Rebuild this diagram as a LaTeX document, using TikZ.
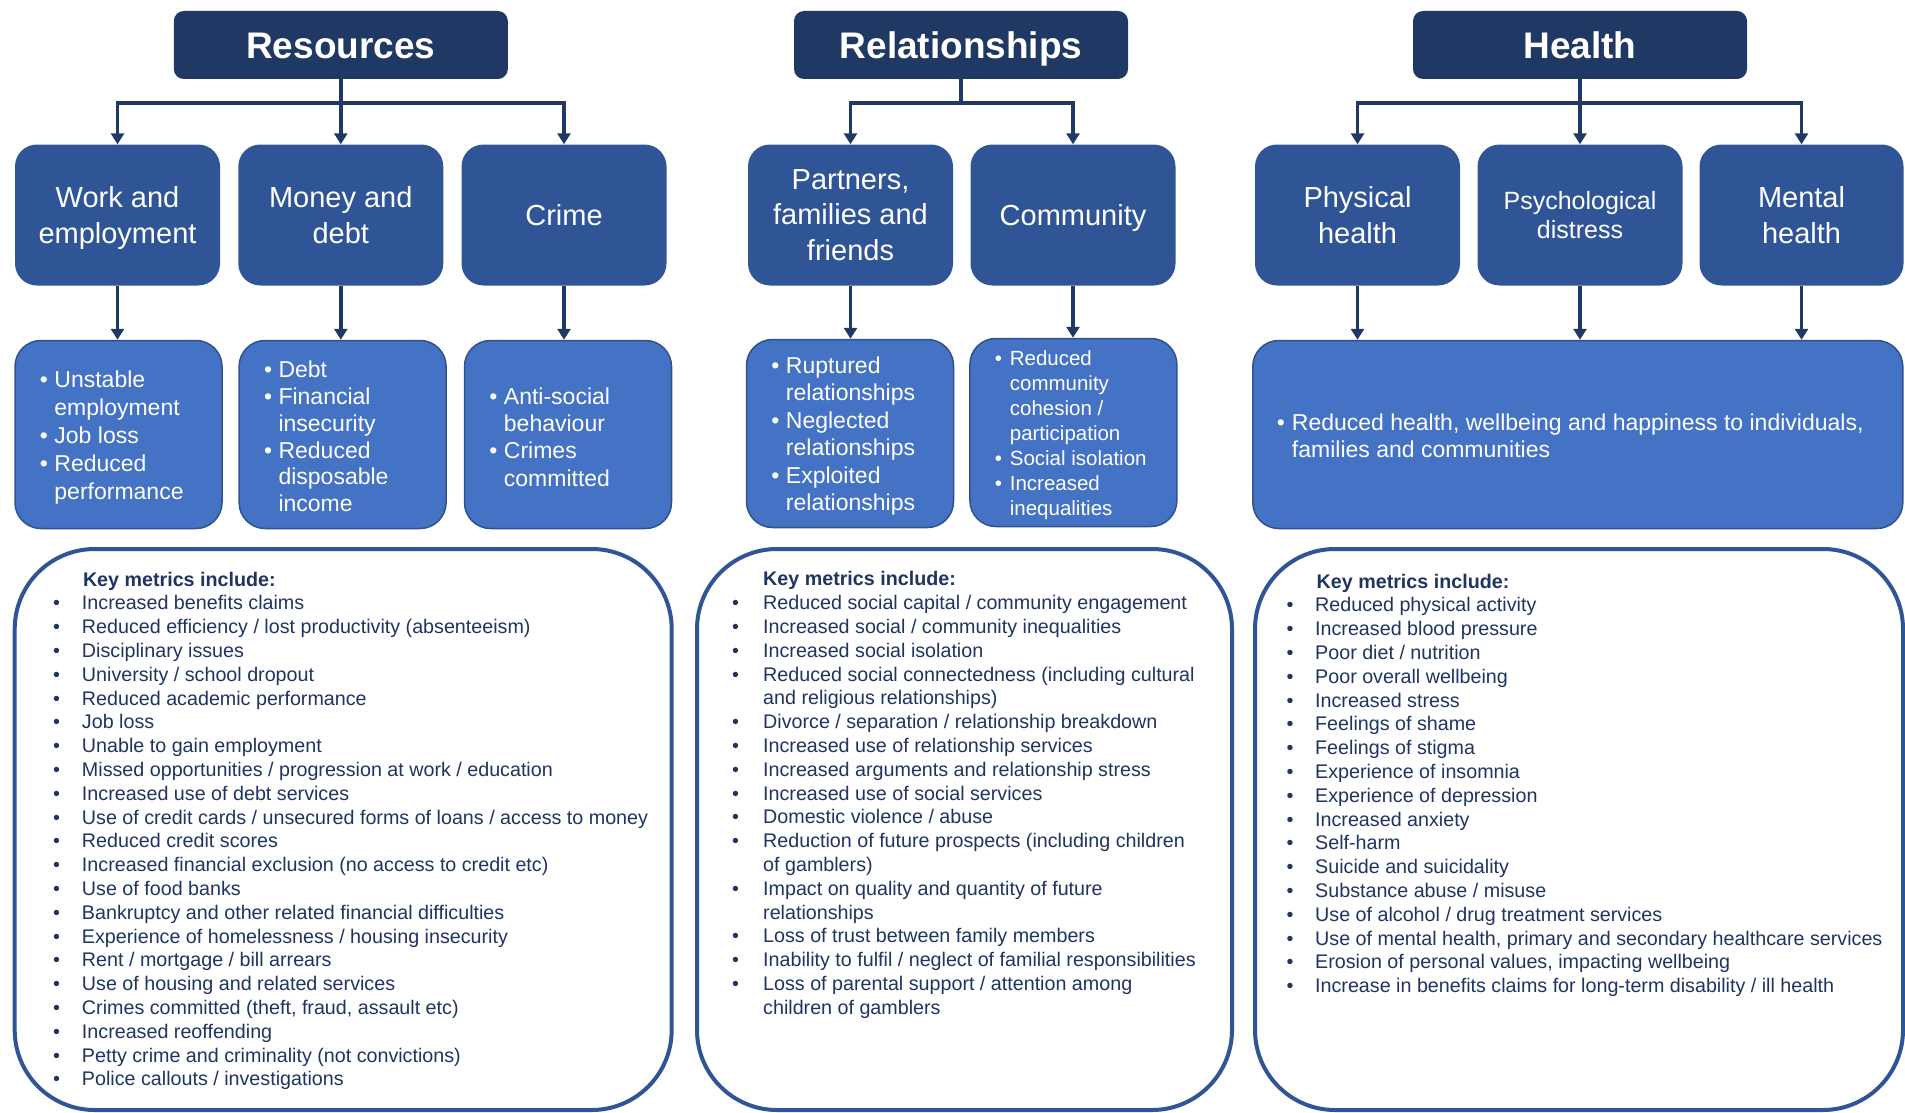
\documentclass[tikz,border=0pt]{standalone}
\usepackage{fontspec}
\setmainfont{Liberation Sans}
\usetikzlibrary{arrows.meta}
\definecolor{navy}{HTML}{203864}
\definecolor{midblue}{HTML}{2F5597}
\definecolor{lightblue}{HTML}{4472C4}
\definecolor{edgeblue}{HTML}{2F528F}
\definecolor{ktext}{HTML}{1F3461}
\newlength\bw
\newcommand\bi[1]{\makebox[\bw][l]{\textbullet}#1}
\newcommand\ci[1]{\hspace*{\bw}#1}
\newcommand\nodepth[1]{\raisebox{0pt}[\height][0pt]{#1}}
\begin{document}
\begin{tikzpicture}[x=1pt,y=-1pt,
  hdr/.style={fill=navy, rounded corners=10pt, minimum width=334pt, minimum height=68pt, inner sep=0pt, text=white, text height=26.5pt, text depth=0pt, font=\fontsize{37}{44}\selectfont\bfseries},
  lvltwo/.style={fill=midblue, rounded corners=22pt, minimum width=205pt, minimum height=141pt, inner sep=0pt, text=white, align=center, font=\fontsize{29}{35.2}\selectfont},
  lvlthree/.style={fill=lightblue, draw=edgeblue, line width=1.5pt, rounded corners=26pt, minimum width=207pt, minimum height=188pt, inner sep=0pt},
  tthree/.style={text=white, align=left, inner sep=0pt, anchor=west, font={\fontsize{23}{27.4}\selectfont\setlength\bw{14.5pt}}},
  keybox/.style={draw=midblue, line width=4pt, rounded corners=80pt, fill=white, inner sep=0pt},
  keytext/.style={text=ktext, align=left, inner sep=0pt, anchor=north west},
  arr/.style={draw=navy, line width=3.5pt, -{Triangle[length=11pt,width=13pt]}},
  bar/.style={draw=navy, line width=3.5pt},
]
\useasboundingbox (0,0) rectangle (1905,1113);

% headers
\node[hdr] (res) at (340.8,45) {Resources};
\node[hdr] (rel) at (961,45) {Relationships};
\node[hdr] (hea) at (1580,45) {Health};

% second level
\node[lvltwo] (work) at (117.5,215) {Work and\\\nodepth{employment}};
\node[lvltwo] (money) at (340.8,215) {Money and\\\nodepth{debt}};
\node[lvltwo] (crime) at (564,215) {Crime};
\node[lvltwo] (partners) at (850.5,215) {Partners,\\families and\\\nodepth{friends}};
\node[lvltwo] (community) at (1073,215) {\nodepth{Community}};
\node[lvltwo] (physical) at (1357.5,215) {Physical\\\nodepth{health}};
\node[lvltwo, font=\fontsize{25}{29.5}\selectfont] (psych) at (1580,215) {Psychological\\\nodepth{distress}};
\node[lvltwo, minimum width=204pt] (mental) at (1801.5,215) {Mental\\\nodepth{health}};

% third level
\node[lvlthree] (wb) at (118.5,434.5) {};
\node[lvlthree] (mb) at (342.6,434.5) {};
\node[lvlthree] (cb) at (568,434.5) {};
\node[lvlthree] (pb) at (850,433.5) {};
\node[lvlthree] (cob) at (1073.4,432.5) {};
\node[lvlthree, minimum width=650pt] (hb) at (1577.8,434.5) {};

\node[tthree, font={\fontsize{23}{27.8}\selectfont\setlength\bw{14.5pt}}] (wbt) at ([shift={(25.5,3)}]wb.west) {\bi{Unstable}\\\ci{employment}\\\bi{Job loss}\\\bi{Reduced}\\\ci{performance}};
\node[tthree, font={\fontsize{23}{26.8}\selectfont\setlength\bw{14.5pt}}] (mbt) at ([shift={(25.5,2)}]mb.west) {\bi{Debt}\\\bi{Financial}\\\ci{insecurity}\\\bi{Reduced}\\\ci{disposable}\\\ci{income}};
\node[tthree] (cbt) at ([shift={(25.5,2.5)}]cb.west) {\bi{Anti-social}\\\ci{behaviour}\\\bi{Crimes}\\\ci{committed}};
\node[tthree] (pbt) at ([shift={(25.5,2.5)}]pb.west) {\bi{Ruptured}\\\ci{relationships}\\\bi{Neglected}\\\ci{relationships}\\\bi{Exploited}\\\ci{relationships}};
\node[tthree, font={\fontsize{20.5}{25}\selectfont\setlength\bw{15pt}}] (cobt) at ([shift={(25.5,2.5)}]cob.west) {\bi{Reduced}\\\ci{community}\\\ci{cohesion /}\\\ci{participation}\\\bi{Social isolation}\\\bi{Increased}\\\ci{inequalities}};
\node[tthree, font={\fontsize{23}{27.4}\selectfont\setlength\bw{15pt}}] (hbt) at ([shift={(24.7,1.5)}]hb.west) {\bi{Reduced health, wellbeing and happiness to individuals,}\\\ci{families and communities}};

% connectors
\coordinate (resbar) at (340.8,103);
\coordinate (relbar) at (961,103);
\coordinate (heabar) at (1580,103);
\draw[bar] (res.south) -- (resbar);
\draw[arr] (resbar) -| (work.north);
\draw[arr] (res.south) -- (money.north);
\draw[arr] (resbar) -| (crime.north);
\draw[bar] (rel.south) -- (relbar);
\draw[arr] (relbar) -| (partners.north);
\draw[arr] (relbar) -| (community.north);
\draw[bar] (hea.south) -- (heabar);
\draw[arr] (heabar) -| (physical.north);
\draw[arr] (hea.south) -- (psych.north);
\draw[arr] (heabar) -| (mental.north);

\draw[arr] (work.south) -- (work.south |- wb.north);
\draw[arr] (money.south) -- (money.south |- mb.north);
\draw[arr] (crime.south) -- (crime.south |- cb.north);
\draw[arr] (partners.south) -- (partners.south |- pb.north);
\draw[arr] (community.south) -- (community.south |- cob.north);
\draw[arr] (physical.south) -- (physical.south |- hb.north);
\draw[arr] (psych.south) -- (psych.south |- hb.north);
\draw[arr] (mental.south) -- (mental.south |- hb.north);

% key metrics boxes
\node[keybox, minimum width=657pt, minimum height=561pt] (k1) at (343.2,829.5) {};
\node[keybox, minimum width=535pt, minimum height=561pt] (k2) at (964.5,829.5) {};
\node[keybox, minimum width=648pt, minimum height=561pt] (k3) at (1579,829.5) {};

\node[keytext, font={\fontsize{19.7}{23.8}\selectfont\setlength\bw{29pt}}] (k1t) at (52.8,569.3) {%
\strut\hspace*{\bw}\hspace*{1pt}\textbf{Key metrics include:}\\
\bi{Increased benefits claims}\\
\bi{Reduced efficiency / lost productivity (absenteeism)}\\
\bi{Disciplinary issues}\\
\bi{University / school dropout}\\
\bi{Reduced academic performance}\\
\bi{Job loss}\\
\bi{Unable to gain employment}\\
\bi{Missed opportunities / progression at work / education}\\
\bi{Increased use of debt services}\\
\bi{Use of credit cards / unsecured forms of loans / access to money}\\
\bi{Reduced credit scores}\\
\bi{Increased financial exclusion (no access to credit etc)}\\
\bi{Use of food banks}\\
\bi{Bankruptcy and other related financial difficulties}\\
\bi{Experience of homelessness / housing insecurity}\\
\bi{Rent / mortgage / bill arrears}\\
\bi{Use of housing and related services}\\
\bi{Crimes committed (theft, fraud, assault etc)}\\
\bi{Increased reoffending}\\
\bi{Petty crime and criminality (not convictions)}\\
\bi{Police callouts / investigations}};

\node[keytext, font={\fontsize{19.7}{23.8}\selectfont\setlength\bw{31pt}}] (k2t) at (732,569) {%
\strut\hspace*{\bw}\textbf{Key metrics include:}\\
\bi{Reduced social capital / community engagement}\\
\bi{Increased social / community inequalities}\\
\bi{Increased social isolation}\\
\bi{Reduced social connectedness (including cultural}\\
\ci{and religious relationships)}\\
\bi{Divorce / separation / relationship breakdown}\\
\bi{Increased use of relationship services}\\
\bi{Increased arguments and relationship stress}\\
\bi{Increased use of social services}\\
\bi{Domestic violence / abuse}\\
\bi{Reduction of future prospects (including children}\\
\ci{of gamblers)}\\
\bi{Impact on quality and quantity of future}\\
\ci{relationships}\\
\bi{Loss of trust between family members}\\
\bi{Inability to fulfil / neglect of familial responsibilities}\\
\bi{Loss of parental support / attention among}\\
\ci{children of gamblers}};

\node[keytext, font={\fontsize{19.7}{23.8}\selectfont\setlength\bw{28.5pt}}] (k3t) at (1286.5,571.3) {%
\strut\hspace*{\bw}\hspace*{1.5pt}\textbf{Key metrics include:}\\
\bi{Reduced physical activity}\\
\bi{Increased blood pressure}\\
\bi{Poor diet / nutrition}\\
\bi{Poor overall wellbeing}\\
\bi{Increased stress}\\
\bi{Feelings of shame}\\
\bi{Feelings of stigma}\\
\bi{Experience of insomnia}\\
\bi{Experience of depression}\\
\bi{Increased anxiety}\\
\bi{Self-harm}\\
\bi{Suicide and suicidality}\\
\bi{Substance abuse / misuse}\\
\bi{Use of alcohol / drug treatment services}\\
\bi{Use of mental health, primary and secondary healthcare services}\\
\bi{Erosion of personal values, impacting wellbeing}\\
\bi{Increase in benefits claims for long-term disability / ill health}};
\end{tikzpicture}
\end{document}
